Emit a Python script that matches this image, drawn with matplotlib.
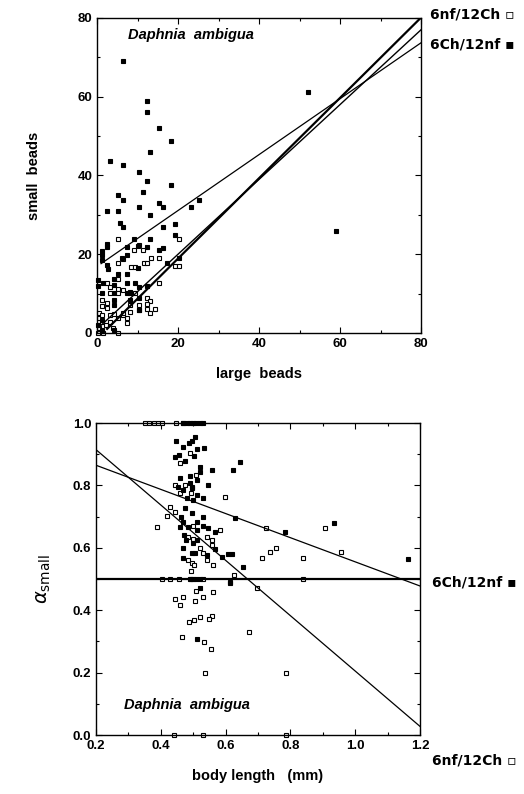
import numpy as np
import matplotlib.pyplot as plt

plt.rcParams['font.family'] = ['Liberation Sans', 'DejaVu Sans']

# --- top panel: small beads vs large beads ---
top_filled_x = [6.3, 12.4, 12.4, 15.3, 18.3, 13.2, 3.3, 6.3, 10.3, 12.4, 11.4, 18.2, 5.3, 6.3,
                15.3, 16.4, 10.4, 2.5, 5.3, 13.2, 23.1, 25.1, 5.7, 6.3, 19.3, 16.3, 19.3, 9.2,
                2.5, 2.5, 7.3, 10.2, 12.4, 13.0, 1.3, 1.2, 1.2, 15.3, 16.4, 7.3, 6.2, 2.4, 2.6,
                17.4, 20.2, 10.2, 5.3, 7.3, 0.2, 0.2, 1.6, 4.3, 4.3, 7.3, 9.3, 10.3, 12.4, 1.2,
                4.3, 8.1, 4.2, 4.2, 10.3, 8.1, 10.3, 1.2, 0.2, 1.2, 4.2, 52.2, 59.0, 7.4]
top_filled_y = [69.1, 58.9, 56.0, 52.1, 48.8, 46.0, 43.7, 42.6, 40.8, 38.7, 35.7, 37.7, 35.0, 33.8,
                32.9, 32.0, 32.0, 30.9, 31.0, 29.9, 32.0, 33.9, 28.0, 27.0, 27.7, 26.9, 25.0, 23.8,
                22.7, 21.9, 21.9, 22.2, 21.9, 23.8, 20.9, 19.8, 18.5, 21.1, 21.7, 19.8, 19.0, 17.3,
                16.2, 17.7, 19.0, 16.4, 15.1, 15.1, 13.5, 12.0, 12.6, 13.7, 12.2, 12.8, 12.8, 11.8,
                11.9, 10.1, 10.1, 10.5, 8.4, 7.2, 8.8, 8.4, 5.8, 3.3, 2.0, 0.8, 0.8, 61.2, 26.0, 10.1]
top_open_x = [5.3, 9.2, 11.4, 10.3, 20.3, 5.3, 6.3, 13.3, 15.3, 11.6, 12.4, 8.3, 9.3, 19.3, 20.2,
              15.3, 2.4, 3.2, 5.3, 3.2, 5.3, 6.3, 8.1, 9.3, 12.4, 13.2, 12.4, 14.4, 12.4, 13.2,
              10.3, 10.3, 8.1, 8.1, 7.3, 7.3, 1.3, 2.4, 1.3, 2.4, 0.5, 0.5, 1.3, 3.2, 5.3, 6.3,
              1.3, 3.2, 0.5, 1.6, 5.3, 0.2, 2.2, 4.0, 6.3, 4.3, 5.3]
top_open_y = [23.9, 21.2, 21.2, 22.3, 23.8, 17.7, 18.7, 19.0, 19.0, 17.7, 17.7, 16.8, 16.8, 17.0, 17.0,
              12.8, 12.6, 11.6, 11.3, 10.1, 10.1, 10.9, 10.1, 10.1, 9.0, 8.0, 7.4, 6.0, 6.0, 5.0,
              7.1, 5.8, 7.1, 5.4, 3.7, 2.6, 8.4, 7.5, 6.9, 6.3, 3.7, 5.0, 4.6, 4.6, 3.7, 4.6,
              2.9, 2.9, 1.2, 0.0, 0.0, 0.1, 2.0, 1.2, 5.0, 4.8, 13.6]

# regression lines: (intercept, slope, x start, x end, linewidth)
top_lines = [(16.9, 0.71, 1.0, 80, 0.9),
             (1.0, 0.95, 1.0, 80, 1.0),
             (-1.5, 1.02, 2.5, 80, 1.6)]

# --- bottom panel: alpha_small vs body length ---
bot_filled_x = [0.447, 0.486, 0.495, 0.506, 0.470, 0.511, 0.533, 0.444, 0.455, 0.476, 0.502, 0.521,
                0.557, 0.624, 0.644, 0.459, 0.490, 0.511, 0.521, 0.547, 0.470, 0.480, 0.500, 0.513,
                0.531, 0.475, 0.495, 0.463, 0.470, 0.459, 0.485, 0.511, 0.531, 0.547, 0.568, 0.629,
                0.511, 0.472, 0.478, 0.511, 0.468, 0.500, 0.542, 0.568, 0.505, 0.470, 0.588, 0.608,
                0.619, 0.653, 0.614, 0.614, 0.521, 0.511, 0.936, 0.784, 0.490, 0.454, 0.495, 0.531,
                0.495, 1.163,
                0.47, 0.48, 0.49, 0.50, 0.51, 0.52, 0.53, 0.49, 0.50, 0.51, 0.52]
bot_filled_y = [0.942, 0.935, 0.943, 0.956, 0.924, 0.916, 0.919, 0.892, 0.897, 0.878, 0.894, 0.860,
                0.849, 0.849, 0.875, 0.825, 0.830, 0.817, 0.844, 0.800, 0.785, 0.759, 0.753, 0.769,
                0.759, 0.726, 0.711, 0.700, 0.684, 0.668, 0.668, 0.684, 0.670, 0.662, 0.652, 0.694,
                0.657, 0.641, 0.625, 0.625, 0.598, 0.614, 0.577, 0.596, 0.582, 0.566, 0.572, 0.580,
                0.579, 0.540, 0.491, 0.486, 0.470, 0.307, 0.681, 0.650, 0.809, 0.796, 0.791, 0.700,
                0.582, 0.564,
                1.0, 1.0, 1.0, 1.0, 1.0, 1.0, 1.0, 0.5, 0.5, 0.5, 0.5]
bot_open_x = [0.459, 0.490, 0.509, 0.444, 0.475, 0.495, 0.459, 0.492, 0.429, 0.444, 0.418, 0.387,
              0.500, 0.597, 0.485, 0.500, 0.542, 0.557, 0.583, 0.557, 0.521, 0.531, 0.542, 0.562,
              0.495, 0.503, 0.493, 0.485, 0.724, 0.711, 0.737, 0.756, 0.840, 0.907, 0.956, 0.625,
              0.696, 0.562, 0.509, 0.531, 0.444, 0.470, 0.505, 0.459, 0.521, 0.557, 0.550, 0.488,
              0.503, 0.673, 0.466, 0.533, 0.554, 0.537, 0.785,
              0.352, 0.365, 0.378, 0.392, 0.405, 0.447, 0.467,
              0.403, 0.428, 0.457, 0.493, 0.531, 0.840,
              0.44, 0.53, 0.785]
bot_open_y = [0.873, 0.903, 0.833, 0.801, 0.801, 0.794, 0.775, 0.775, 0.732, 0.716, 0.702, 0.668,
              0.670, 0.762, 0.636, 0.627, 0.634, 0.625, 0.657, 0.609, 0.598, 0.582, 0.561, 0.545,
              0.550, 0.545, 0.526, 0.561, 0.665, 0.568, 0.588, 0.598, 0.568, 0.665, 0.588, 0.513,
              0.472, 0.459, 0.463, 0.443, 0.435, 0.443, 0.429, 0.417, 0.379, 0.382, 0.372, 0.363,
              0.369, 0.331, 0.315, 0.299, 0.275, 0.200, 0.200,
              1.0, 1.0, 1.0, 1.0, 1.0, 1.0, 1.0,
              0.5, 0.5, 0.5, 0.5, 0.5, 0.5,
              0.0, 0.0, 0.0]

bot_lines = [(1.092, -0.887, 0.2, 1.2, 0.9),
             (0.942, -0.387, 0.2, 1.2, 0.9),
             (0.5, 0.0, 0.2, 1.2, 1.6)]

fig = plt.figure(figsize=(5.24, 7.94), dpi=100)

ms = 3.5


def style_axes(ax):
    for s in ax.spines.values():
        s.set_linewidth(1.0)
    ax.tick_params(which='both', direction='in', top=True, right=True, width=0.8)
    ax.tick_params(which='major', length=4)
    ax.tick_params(which='minor', length=2.5)
    for lab in ax.get_xticklabels() + ax.get_yticklabels():
        lab.set_fontweight('bold')
        lab.set_fontsize(9.5)


# top panel
ax1 = fig.add_axes([97 / 524, 1 - 333 / 794, 324 / 524, 315 / 794])
ax1.plot(top_open_x, top_open_y, 's', ms=ms, mfc='white', mec='black', mew=0.8, clip_on=False)
ax1.plot(top_filled_x, top_filled_y, 's', ms=ms, mfc='black', mec='black', mew=0.8, clip_on=False)
for b0, b1, xs, xe, lw in top_lines:
    xx = np.array([xs, xe])
    ax1.plot(xx, b0 + b1 * xx, color='black', lw=lw)
ax1.set_xlim(0, 80)
ax1.set_ylim(0, 80)
ax1.set_xticks([0, 20, 40, 60, 80])
ax1.set_yticks([0, 20, 40, 60, 80])
ax1.set_xticks([10, 30, 50, 70], minor=True)
ax1.set_yticks([10, 30, 50, 70], minor=True)
style_axes(ax1)
ax1.set_xlabel('large  beads', fontsize=10.5, fontweight='bold', labelpad=12)
ax1.set_ylabel('small  beads', fontsize=10.5, fontweight='bold', labelpad=26)
ax1.text(0.095, 0.945, 'Daphnia  ambigua', transform=ax1.transAxes, fontsize=10.5,
         fontweight='bold', style='italic', va='center')

fig.text(430 / 524, 1 - 15 / 794, '6nf/12Ch \u25ab', fontsize=10, fontweight='bold',
         va='center', family=['DejaVu Sans'])
fig.text(430 / 524, 1 - 44 / 794, '6Ch/12nf \u25aa', fontsize=10, fontweight='bold',
         va='center', family=['DejaVu Sans'])

# bottom panel
ax2 = fig.add_axes([96 / 524, 1 - 735 / 794, 324 / 524, 312 / 794])
ax2.plot(bot_open_x, bot_open_y, 's', ms=ms, mfc='white', mec='black', mew=0.8, clip_on=False)
ax2.plot(bot_filled_x, bot_filled_y, 's', ms=ms, mfc='black', mec='black', mew=0.8, clip_on=False)
for b0, b1, xs, xe, lw in bot_lines:
    xx = np.array([xs, xe])
    ax2.plot(xx, b0 + b1 * xx, color='black', lw=lw)
ax2.set_xlim(0.2, 1.2)
ax2.set_ylim(0.0, 1.0)
ax2.set_xticks(np.arange(0.2, 1.21, 0.2))
ax2.set_yticks(np.arange(0.0, 1.01, 0.2))
ax2.set_xticks(np.arange(0.3, 1.2, 0.2), minor=True)
ax2.set_yticks(np.arange(0.1, 1.0, 0.2), minor=True)
ax2.xaxis.set_major_formatter(plt.FormatStrFormatter('%.1f'))
ax2.yaxis.set_major_formatter(plt.FormatStrFormatter('%.1f'))
style_axes(ax2)
ax2.set_xlabel('body length   (mm)', fontsize=10.5, fontweight='bold', labelpad=12)
ax2.set_ylabel(r'$\alpha_{\mathrm{small}}$', fontsize=14, labelpad=14)
ax2.text(0.085, 0.095, 'Daphnia  ambigua', transform=ax2.transAxes, fontsize=10.5,
         fontweight='bold', style='italic', va='center')

fig.text(432 / 524, 1 - 582 / 794, '6Ch/12nf \u25aa', fontsize=10, fontweight='bold',
         va='center', family=['DejaVu Sans'])
fig.text(432 / 524, 1 - 760 / 794, '6nf/12Ch \u25ab', fontsize=10, fontweight='bold',
         va='center', family=['DejaVu Sans'])

fig.savefig('out.png', dpi=100)
